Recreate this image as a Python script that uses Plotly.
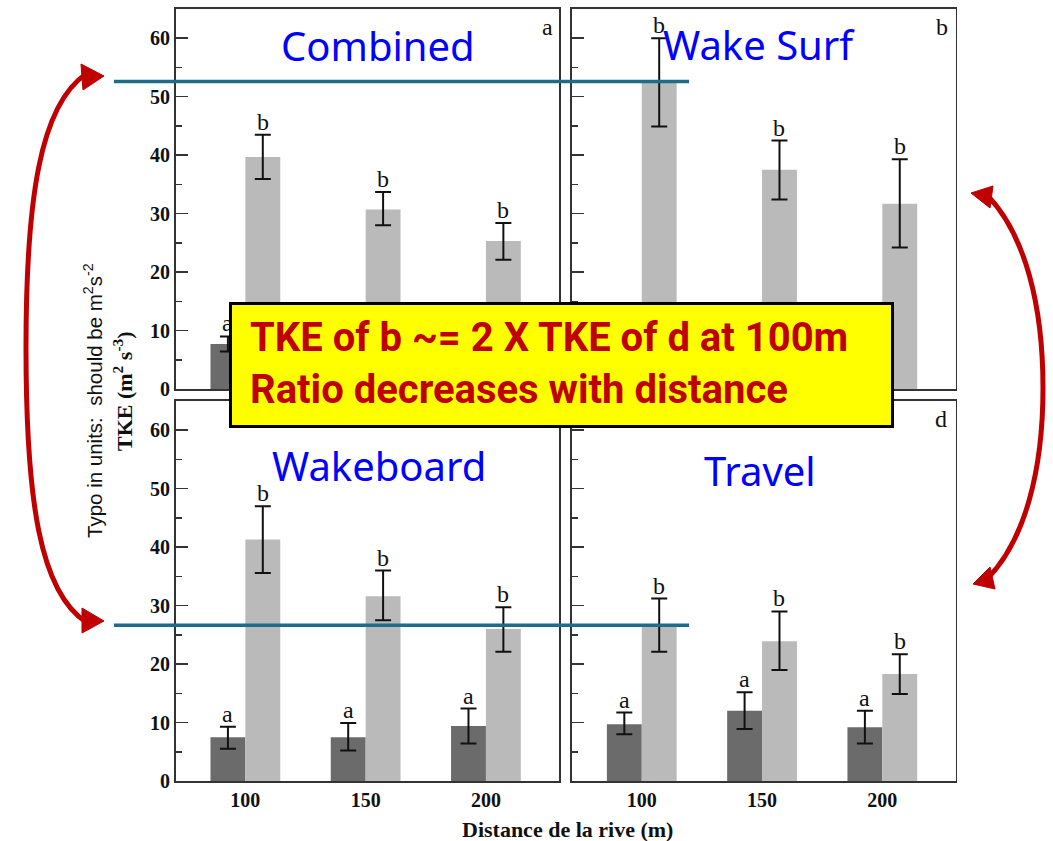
import plotly.graph_objects as go

# ---------------- data ----------------
categories = ["100", "150", "200"]
panel_titles = ["Combined", "Wake Surf", "Wakeboard", "Travel"]
panel_letters = ["a", "b", "c", "d"]
low_letter = "a"
high_letter = "b"

combined_low = [7.7, 8.6, 8.5]
combined_low_up = [1.3, 1.5, 1.5]
combined_low_dn = [1.3, 1.5, 1.5]
combined_high = [39.7, 30.7, 25.3]
combined_high_up = [3.8, 3.0, 3.1]
combined_high_dn = [3.8, 2.7, 3.2]

wakesurf_low = [5.9, 6.3, 6.9]
wakesurf_low_up = [1.5, 1.5, 1.5]
wakesurf_low_dn = [1.5, 1.5, 1.5]
wakesurf_high = [52.6, 37.5, 31.7]
wakesurf_high_up = [7.4, 5.0, 7.6]
wakesurf_high_dn = [7.7, 5.1, 7.5]

wakeboard_low = [7.5, 7.5, 9.4]
wakeboard_low_up = [1.8, 2.4, 3.0]
wakeboard_low_dn = [2.0, 2.3, 3.0]
wakeboard_high = [41.3, 31.6, 26.0]
wakeboard_high_up = [5.7, 4.4, 3.7]
wakeboard_high_dn = [5.7, 4.1, 3.9]

travel_low = [9.7, 12.0, 9.2]
travel_low_up = [2.0, 3.2, 2.8]
travel_low_dn = [1.7, 3.1, 2.8]
travel_high = [26.6, 23.9, 18.3]
travel_high_up = [4.6, 5.1, 3.4]
travel_high_dn = [4.5, 4.9, 3.4]

y_tick_values = [0, 10, 20, 30, 40, 50, 60]

panels = [
    (combined_low, combined_low_up, combined_low_dn, combined_high, combined_high_up, combined_high_dn),
    (wakesurf_low, wakesurf_low_up, wakesurf_low_dn, wakesurf_high, wakesurf_high_up, wakesurf_high_dn),
    (wakeboard_low, wakeboard_low_up, wakeboard_low_dn, wakeboard_high, wakeboard_high_up, wakeboard_high_dn),
    (travel_low, travel_low_up, travel_low_dn, travel_high, travel_high_up, travel_high_dn),
]

# ---------------- geometry (reference-image pixels) ----------------
REF_W, REF_H = 1053, 841
W, H = 1053, 852          # figure size (the page view is slightly compressed vertically)
VS = H / REF_H            # vertical pixel scale for pixel-sized items


def px(x):
    return x / REF_W


def py(y):
    return 1 - y / REF_H


def path_from(points):
    s = "M %.5f %.5f" % (px(points[0][0]), py(points[0][1]))
    for p in points[1:]:
        s += " L %.5f %.5f" % (px(p[0]), py(p[1]))
    return s + " Z"


def cubic_path(start, segs):
    s = "M %.5f %.5f" % (px(start[0]), py(start[1]))
    for c1, c2, e in segs:
        s += " C %.5f %.5f %.5f %.5f %.5f %.5f" % (
            px(c1[0]), py(c1[1]), px(c2[0]), py(c2[1]), px(e[0]), py(e[1]))
    return s


X_PIX = [(175.6, 559.3), (572, 955.7)]
Y_PIX = [(9, 389), (401, 781)]
x_dom = [[px(a), px(b)] for a, b in X_PIX]
y_dom = [[py(b), py(a)] for a, b in Y_PIX]
X_RANGE = [-0.58, 2.61]
Y_RANGE = [0, 65]
BAR_W = 0.29

BOX = (229, 302, 894, 426)  # call-out box, reference pixels


def hidden_by_box(xp, yp):
    return BOX[0] + 6 <= xp <= BOX[2] - 6 and BOX[1] + 6 <= yp <= BOX[3] - 6


def to_pix(col, row, xv, yv):
    x0, x1 = X_PIX[col]
    y0, y1 = Y_PIX[row]
    xp = x0 + (xv - X_RANGE[0]) / (X_RANGE[1] - X_RANGE[0]) * (x1 - x0)
    yp = y1 - (yv - Y_RANGE[0]) / (Y_RANGE[1] - Y_RANGE[0]) * (y1 - y0)
    return xp, yp


DARK = "#6b6b6b"
LIGHT = "#b9bab9"
SERIF = "Liberation Serif, Times New Roman, serif"

fig = go.Figure()
annotations = []

for i, (lo, lo_up, lo_dn, hi, hi_up, hi_dn) in enumerate(panels):
    n = i + 1
    col = i % 2
    row = i // 2
    xa = "x" if n == 1 else "x%d" % n
    ya = "y" if n == 1 else "y%d" % n
    pos = list(range(len(categories)))
    fig.add_trace(go.Bar(
        x=pos, y=lo, xaxis=xa, yaxis=ya, width=BAR_W, offset=-BAR_W,
        marker=dict(color=DARK, line=dict(width=0)),
        error_y=dict(type="data", symmetric=False, array=lo_up, arrayminus=lo_dn,
                     color="#111", thickness=2, width=8),
        showlegend=False, hoverinfo="skip"))
    fig.add_trace(go.Bar(
        x=pos, y=hi, xaxis=xa, yaxis=ya, width=BAR_W, offset=0,
        marker=dict(color=LIGHT, line=dict(width=0)),
        error_y=dict(type="data", symmetric=False, array=hi_up, arrayminus=hi_dn,
                     color="#111", thickness=2, width=8),
        showlegend=False, hoverinfo="skip"))
    for k in pos:
        for xv, yv, letter in ((k - BAR_W / 2, lo[k] + lo_up[k], low_letter),
                               (k + BAR_W / 2, hi[k] + hi_up[k], high_letter)):
            xp, yp = to_pix(col, row, xv, yv)
            if hidden_by_box(xp, yp - 12):
                continue
            annotations.append(dict(x=xv, y=yv, xref=xa, yref=ya, text=letter,
                                    showarrow=False, xanchor="center", yanchor="bottom",
                                    yshift=-2, font=dict(family=SERIF, size=24, color="#111")))

    axis_common = dict(showline=True, mirror=True, linecolor="#333", linewidth=1.6,
                       showgrid=False, zeroline=False)
    fig.layout["xaxis" if n == 1 else "xaxis%d" % n] = dict(
        domain=x_dom[col], range=X_RANGE, anchor=ya,
        tickvals=pos, ticktext=categories, ticks="",
        showticklabels=(row == 1),
        tickfont=dict(family=SERIF, size=20, color="#111", weight="bold"),
        **axis_common)
    fig.layout["yaxis" if n == 1 else "yaxis%d" % n] = dict(
        domain=y_dom[row], range=Y_RANGE, anchor=xa,
        tickvals=y_tick_values, ticks="inside", ticklen=12, tickwidth=1.6, tickcolor="#333",
        minor=dict(ticks="inside", ticklen=6, dtick=5, tickwidth=1.6, tickcolor="#333"),
        showticklabels=(col == 0),
        tickfont=dict(family=SERIF, size=20, color="#111", weight="bold"),
        **axis_common)

# panel titles (blue) and letters
title_pos = [(378, 46), (759, 44), (379, 465), (760, 470)]
letter_pos = [(547, 27), (942, 27), (547, 419), (941, 419)]
for i in range(4):
    annotations.append(dict(x=px(title_pos[i][0]), y=py(title_pos[i][1]), xref="paper", yref="paper",
                            xanchor="center", yanchor="middle",
                            text=panel_titles[i], showarrow=False,
                            font=dict(family="Noto Sans, sans-serif", size=40, color="#0000ff")))
    if not hidden_by_box(*letter_pos[i]):
        annotations.append(dict(x=px(letter_pos[i][0]), y=py(letter_pos[i][1]), xref="paper", yref="paper",
                                xanchor="center", yanchor="middle",
                                text=panel_letters[i], showarrow=False,
                                font=dict(family=SERIF, size=24, color="#111")))

# axis titles
annotations.append(dict(x=px(123), y=py(391), xref="paper", yref="paper", textangle=-90,
                        xanchor="center", yanchor="middle",
                        text="TKE (m<sup>2</sup> s<sup>-3</sup>)", showarrow=False,
                        font=dict(family=SERIF, size=22, color="#111", weight="bold")))
annotations.append(dict(x=px(93), y=py(401), xref="paper", yref="paper", textangle=-90,
                        xanchor="center", yanchor="middle",
                        text="Typo in units:\u00a0 should be m<sup>2</sup>s<sup>-2</sup>", showarrow=False,
                        font=dict(family="Liberation Sans, Arial, sans-serif", size=20.5, color="#111")))
annotations.append(dict(x=px(567), y=py(829), xref="paper", yref="paper",
                        xanchor="center", yanchor="middle",
                        text="Distance de la rive (m)", showarrow=False,
                        font=dict(family=SERIF, size=22, color="#111", weight="bold")))

# yellow call-out box (an annotation, so it covers the marks beneath it)
annotations.append(dict(x=px(BOX[0]), y=py(BOX[1]), xref="paper", yref="paper", xanchor="left", yanchor="top",
                        text=" ", showarrow=False, width=BOX[2] - BOX[0] - 6,
                        height=round((BOX[3] - BOX[1]) * VS - 6),
                        bgcolor="#ffff00", bordercolor="#000", borderwidth=3, borderpad=0))
annotations.append(dict(x=px(248), y=py(364), xref="paper", yref="paper", xanchor="left", yanchor="middle",
                        align="left", showarrow=False,
                        text="TKE of b ~= 2 X TKE of d at 100m<br>Ratio decreases with distance",
                        font=dict(family="Roboto, sans-serif", size=40, color="#c00000", weight="bold")))

shapes = []
BLUE = "#1f6b8a"
for yl in (81.5, 625.3):
    shapes.append(dict(type="line", xref="paper", yref="paper", x0=px(114), x1=px(689),
                       y0=py(yl), y1=py(yl), line=dict(color=BLUE, width=3.5), layer="above"))

RED = "#c00000"
# left double arrow
shapes.append(dict(type="path", xref="paper", yref="paper", layer="above",
                   path=cubic_path((86, 74), [((40, 105), (26, 200), (26, 348)),
                                              ((26, 500), (40, 592), (86, 622))]),
                   line=dict(color=RED, width=5)))
shapes.append(dict(type="path", xref="paper", yref="paper", layer="above",
                   path=path_from([(104, 76), (81, 64), (83, 90)]),
                   fillcolor=RED, line=dict(color=RED, width=1)))
shapes.append(dict(type="path", xref="paper", yref="paper", layer="above",
                   path=path_from([(104, 621), (82, 608), (82, 633)]),
                   fillcolor=RED, line=dict(color=RED, width=1)))
# right double arrow
shapes.append(dict(type="path", xref="paper", yref="paper", layer="above",
                   path=cubic_path((988, 196), [((1025, 235), (1043, 305), (1043, 388)),
                                                ((1043, 470), (1025, 540), (988, 578))]),
                   line=dict(color=RED, width=5)))
shapes.append(dict(type="path", xref="paper", yref="paper", layer="above",
                   path=path_from([(971, 193), (993, 186), (990, 208)]),
                   fillcolor=RED, line=dict(color=RED, width=1)))
shapes.append(dict(type="path", xref="paper", yref="paper", layer="above",
                   path=path_from([(973, 584), (990, 567), (995, 589)]),
                   fillcolor=RED, line=dict(color=RED, width=1)))

fig.update_layout(
    width=W, height=H, autosize=False,
    margin=dict(l=0, r=0, t=0, b=0),
    paper_bgcolor="white", plot_bgcolor="white",
    barmode="overlay", showlegend=False, hovermode=False,
    annotations=annotations, shapes=shapes,
)

fig.write_html(
    "out.html",
    config={"displayModeBar": False, "staticPlot": True},
    post_script="document.documentElement.style.margin='0';document.body.style.margin='0';"
                "document.body.style.padding='0';document.body.style.overflow='hidden';",
)
